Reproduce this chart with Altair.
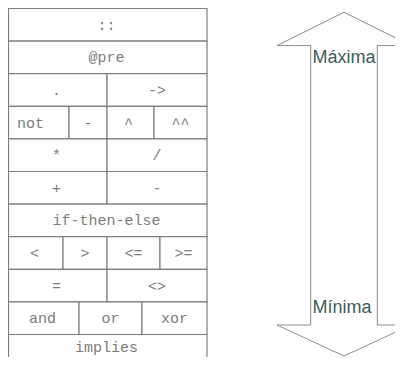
import altair as alt
import pandas as pd

# ---- table of operators (precedence rows, top = highest) ----
row_index = [0, 1, 2, 2, 3, 3, 3, 3, 4, 4, 5, 5, 6, 7, 7, 7, 7, 8, 8, 9, 9, 9, 10]
cell_left = [6, 6, 6, 107, 6, 69, 107, 154, 6, 107, 6, 107, 6, 6, 63, 107, 160, 6, 107, 6, 79, 142, 6]
cell_right = [207, 207, 107, 207, 69, 107, 154, 207, 107, 207, 107, 207, 207, 63, 107, 160, 207, 107, 207, 79, 142, 207, 207]
labels = ["::", "@pre", ".", "->", "not", "-", "^", "^^", "*", "/", "+", "-",
          "if-then-else", "<", ">", "<=", ">=", "=", "<>", "and", "or", "xor", "implies"]
label_shift = [0, 0, 0, 0, -7, 0, -2, 0, 0, 0, 0, 0, 0, 0, 0, 0, 0, 0, 0, 0, 0, 0, 0]
label_lift = [0] * 22 + [4]

table_top = 8.5
row_h = 32.6

# ---- double arrow outline ----
arrow_x = [344, 411, 377.3, 377.3, 411, 344, 277, 310.7, 310.7, 277, 344]
arrow_y = [12.3, 45.6, 45.6, 325, 325, 356, 325, 325, 45.6, 45.6, 12.3]
arrow_words = ["Máxima", "Mínima"]
arrow_word_x = [344, 342]
arrow_word_y = [58, 308]

left_fix = [max(v, 8.5) for v in cell_left]
cells = pd.DataFrame({
    "x": left_fix,
    "x2": cell_right,
    "y": [table_top + row_h * r for r in row_index],
    "y2": [table_top + row_h * (r + 1) for r in row_index],
    "label": labels,
    "tx": [(a + b) / 2 + s for a, b, s in zip(cell_left, cell_right, label_shift)],
    "ty": [table_top + row_h * (r + 0.5) - d for r, d in zip(row_index, label_lift)],
})
arrow = pd.DataFrame({"x": arrow_x, "y": arrow_y, "o": list(range(len(arrow_x)))})
words = pd.DataFrame({"x": arrow_word_x, "y": arrow_word_y, "t": arrow_words})

xs = alt.Scale(domain=[8, 395], nice=False, zero=False)
ys = alt.Scale(domain=[8, 357], nice=False, zero=False, reverse=True)

mono = "Courier New, Courier, FreeMono, Nimbus Mono PS, Liberation Mono, monospace"

rects = alt.Chart(cells).mark_rect(fill="white", stroke="#7f7f7f", strokeWidth=1.2).encode(
    x=alt.X("x:Q", scale=xs, axis=None),
    x2="x2:Q",
    y=alt.Y("y:Q", scale=ys, axis=None),
    y2="y2:Q",
)
texts = alt.Chart(cells).mark_text(
    font=mono, fontSize=15, color="#7c7c7c", baseline="middle", align="center"
).encode(
    x=alt.X("tx:Q", scale=xs, axis=None),
    y=alt.Y("ty:Q", scale=ys, axis=None),
    text="label:N",
)
arrow_line = alt.Chart(arrow).mark_line(stroke="#8c8c8c", strokeWidth=1).encode(
    x=alt.X("x:Q", scale=xs, axis=None),
    y=alt.Y("y:Q", scale=ys, axis=None),
    order="o:Q",
)
arrow_text = alt.Chart(words).mark_text(
    font="Liberation Sans", fontSize=18, color="#3e5c58", baseline="middle", align="center"
).encode(
    x=alt.X("x:Q", scale=xs, axis=None),
    y=alt.Y("y:Q", scale=ys, axis=None),
    text="t:N",
)

chart = alt.layer(rects, texts, arrow_line, arrow_text).properties(
    width=387, height=349, padding=0, autosize="none"
).configure_view(stroke=None)

chart.save("out.html", embed_options={"renderer": "svg", "actions": False})
